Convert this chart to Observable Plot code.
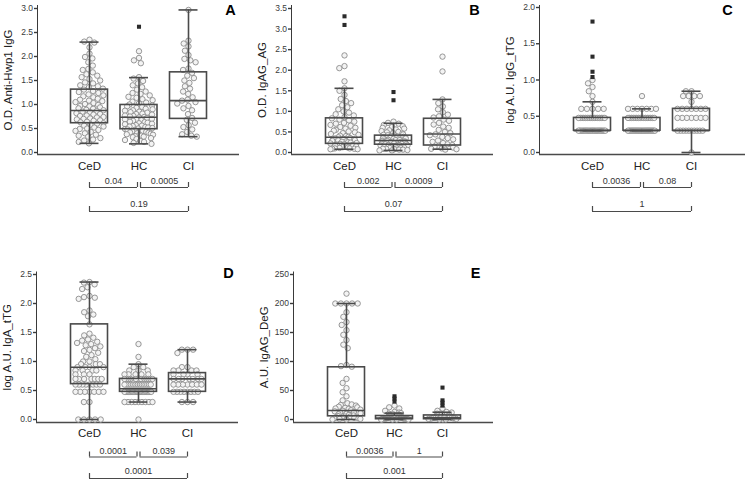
<!DOCTYPE html>
<html><head><meta charset="utf-8">
<script src="https://cdn.jsdelivr.net/npm/d3@7"></script>
<script src="https://cdn.jsdelivr.net/npm/@observablehq/plot@0.6"></script>
<style>
body{margin:0;background:#fff;}
#root{position:relative;width:745px;height:483px;overflow:hidden;}
.pn{position:absolute;}
.pn svg g[aria-label^="y-axis"] path,.pn svg g[aria-label^="y-axis"] line{stroke-width:1.4px;}
</style></head><body><div id="root"></div>
<script>
const groups = ["CeD", "HC", "CI"];

// ---- Panel A: O.D. Anti-Hwp1 IgG ----
const A_CeD = [2.35,2.31,2.29,2.19,2.06,1.99,1.96,1.88,1.81,1.74,1.72,1.67,1.63,1.60,1.57,1.53,1.50,1.46,1.44,1.40,1.38,1.36,1.33,1.31,1.28,1.26,1.24,1.21,1.19,1.17,1.15,1.12,1.10,1.08,1.07,1.05,1.03,1.01,0.99,0.97,0.96,0.94,0.92,0.91,0.89,0.88,0.86,0.85,0.84,0.82,0.80,0.79,0.77,0.76,0.74,0.73,0.71,0.70,0.69,0.67,0.66,0.64,0.63,0.61,0.60,0.58,0.56,0.54,0.52,0.50,0.49,0.47,0.45,0.43,0.40,0.37,0.35,0.33,0.30,0.27,0.25,0.22,0.19];
const A_HC = [2.11,1.97,1.92,1.86,1.57,1.54,1.49,1.44,1.40,1.36,1.31,1.27,1.24,1.22,1.19,1.16,1.14,1.11,1.09,1.06,1.04,1.02,1.00,0.98,0.96,0.95,0.93,0.91,0.90,0.88,0.87,0.85,0.84,0.83,0.81,0.80,0.79,0.77,0.76,0.75,0.74,0.73,0.72,0.70,0.69,0.68,0.67,0.66,0.64,0.63,0.62,0.61,0.60,0.59,0.57,0.56,0.55,0.54,0.53,0.52,0.51,0.50,0.49,0.48,0.47,0.46,0.45,0.44,0.43,0.42,0.41,0.40,0.39,0.38,0.37,0.36,0.35,0.34,0.33,0.32,0.30,0.28,0.26,0.24,0.22,0.20,0.18];
const A_CI = [2.97,2.33,2.27,2.21,2.12,2.03,1.95,1.92,1.88,1.75,1.72,1.66,1.60,1.55,1.50,1.45,1.38,1.33,1.27,1.22,1.15,1.10,1.08,1.05,1.02,0.97,0.92,0.88,0.80,0.72,0.68,0.62,0.57,0.53,0.48,0.43,0.38,0.35,0.33];
const A_out = [[], [2.62], []];
const A_q1 = [0.61, 0.485, 0.70];
const A_med = [0.875, 0.735, 1.08];
const A_q3 = [1.31, 0.99, 1.67];
const A_wlo = [0.19, 0.18, 0.33];
const A_whi = [2.30, 1.56, 2.97];
const A_p = ["0.04", "0.0005", "0.19"];

// ---- Panel B: O.D. IgAG_AG ----
const B_CeD = [2.36,2.10,2.05,1.73,1.56,1.50,1.40,1.30,1.25,1.20,1.15,1.10,1.05,1.00,0.97,0.93,0.90,0.86,0.83,0.80,0.78,0.75,0.72,0.70,0.67,0.65,0.62,0.60,0.58,0.55,0.53,0.51,0.49,0.47,0.45,0.43,0.41,0.40,0.38,0.37,0.35,0.34,0.33,0.32,0.31,0.30,0.29,0.28,0.27,0.26,0.25,0.24,0.23,0.22,0.21,0.20,0.19,0.18,0.17,0.16,0.15,0.14,0.13,0.12,0.11,0.10,0.10,0.09,0.09,0.08,0.08];
const B_HC = [0.75,0.72,0.70,0.67,0.64,0.62,0.60,0.58,0.56,0.54,0.52,0.50,0.49,0.47,0.46,0.44,0.43,0.42,0.41,0.40,0.39,0.38,0.37,0.36,0.35,0.34,0.34,0.33,0.32,0.31,0.30,0.30,0.29,0.28,0.27,0.27,0.26,0.25,0.25,0.24,0.23,0.23,0.22,0.21,0.21,0.20,0.20,0.19,0.18,0.18,0.17,0.17,0.16,0.15,0.15,0.14,0.13,0.13,0.12,0.11,0.11,0.10,0.09,0.09,0.08,0.07,0.07,0.06,0.05,0.05];
const B_CI = [2.33,1.97,1.29,1.20,1.12,1.05,0.98,0.92,0.88,0.85,0.80,0.77,0.72,0.68,0.63,0.60,0.55,0.50,0.47,0.44,0.42,0.38,0.35,0.32,0.29,0.26,0.23,0.20,0.18,0.16,0.14,0.12,0.10,0.09,0.08,0.07];
const B_out = [[3.31, 3.10], [1.47, 1.27], []];
const B_q1 = [0.21, 0.19, 0.17];
const B_med = [0.37, 0.29, 0.45];
const B_q3 = [0.83, 0.41, 0.82];
const B_wlo = [0.08, 0.05, 0.08];
const B_whi = [1.56, 0.71, 1.29];
const B_p = ["0.002", "0.0009", "0.07"];

// ---- Panel C: log A.U. IgG_tTG ----
const C_CeD = [1.000,0.954,0.903,0.845,0.778,0.699,0.602,0.602,0.602,0.602,0.602,
  0.477,0.477,0.477,0.477,0.477,0.477,0.477,0.477,0.477,0.477,0.477,0.477,0.477,0.477,0.477,0.477,
  0.301,0.301,0.301,0.301,0.301,0.301,0.301,0.301,0.301,0.301,0.301,0.301,0.301,0.301,0.301,0.301,0.301,0.301,0.301,0.301,0.301,0.301,0.301,0.301];
const C_HC = [0.778,0.602,0.602,0.602,0.602,0.602,0.602,0.602,
  0.477,0.477,0.477,0.477,0.477,0.477,0.477,0.477,0.477,0.477,0.477,0.477,0.477,0.477,0.477,0.477,
  0.301,0.301,0.301,0.301,0.301,0.301,0.301,0.301,0.301,0.301,0.301,0.301,0.301,0.301,0.301,0.301,0.301,0.301,0.301,0.301,0.301,0.301,0.301,0.301,0.301,0.301];
const C_CI = [0.845,0.845,0.778,0.778,0.778,0.778,0.699,0.602,0.602,0.602,0.602,0.602,0.602,0.602,
  0.477,0.477,0.477,0.477,0.477,0.477,0.477,0.301,0.301,0.301,0.301,0.301,0.301,0.301,0.301,0.301,0.301,0.000];
const C_out = [[1.806, 1.322, 1.114, 1.041], [], []];
const C_q1 = [0.301, 0.301, 0.301];
const C_med = [0.301, 0.301, 0.301];
const C_q3 = [0.477, 0.477, 0.602];
const C_wlo = [0.301, 0.301, 0.000];
const C_whi = [0.699, 0.602, 0.845];
const C_p = ["0.0036", "0.08", "1"];

// ---- Panel D: log A.U. IgA_tTG ----
const D_CeD = [2.37,2.36,2.33,2.28,2.25,2.13,2.11,2.10,2.08,1.88,1.85,1.81,1.78,1.64,1.48,1.45,1.41,1.38,1.36,1.34,1.32,1.30,1.28,1.26,1.23,1.20,1.18,1.15,1.11,1.08,1.04,1.00,1.00,0.954,0.954,0.954,0.903,0.903,0.903,0.903,0.845,0.845,0.845,0.845,0.778,0.778,0.778,
  0.699,0.699,0.699,0.699,0.699,0.699,0.699,0.602,0.602,0.602,0.602,0.602,0.602,0.602,0.602,0.477,0.477,0.477,0.477,0.477,0.477,0.477,0.301,0.301,0,0,0,0,0];
const D_HC = [1.301,1.079,0.954,0.903,0.903,0.845,0.845,0.845,0.778,0.778,0.778,0.778,0.778,
  0.699,0.699,0.699,0.699,0.699,0.699,0.699,0.699,0.699,0.699,0.699,0.699,
  0.602,0.602,0.602,0.602,0.602,0.602,0.602,0.602,0.602,0.602,0.602,0.602,0.602,0.602,0.602,0.602,
  0.477,0.477,0.477,0.477,0.477,0.477,0.477,0.477,0.477,0.477,0.477,0.477,0.477,0.477,0.477,0.477,0.477,0.477,0.477,0.477,0.477,0.477,
  0.301,0.301,0.301,0.301,0.301,0.301,0.301,0.301,0.301,0];
const D_CI = [1.204,1.204,1.204,1.146,0.903,0.903,0.845,0.845,0.845,0.845,0.778,0.778,0.778,0.778,
  0.699,0.699,0.699,0.699,0.699,0.699,0.699,0.602,0.602,0.602,0.602,0.602,0.602,0.602,
  0.477,0.477,0.477,0.477,0.477,0.477,0.477,0.477,0.301,0.301,0.301];
const D_out = [[], [], []];
const D_q1 = [0.61, 0.477, 0.477];
const D_med = [0.90, 0.53, 0.70];
const D_q3 = [1.64, 0.70, 0.80];
const D_wlo = [0, 0.301, 0.301];
const D_whi = [2.37, 0.954, 1.204];
const D_p = ["0.0001", "0.039", "0.0001"];

// ---- Panel E: A.U. IgAG_DeG ----
const E_CeD = [217,200,200,200,200,200,185,177,168,163,154,146,137,129,123,94,92,91,70,63,54,47,40,33,28,26,25,24,22,21,20,19,18,17,16,15,14,13,12,11,10,9,8,7,6,5,5,4,4,3,3,2,2,1,1,0,0];
const E_HC = [24,21,19,15,13,12,11,10,9,8,8,7,7,6,6,5,5,5,4,4,4,4,3,3,3,3,3,2,2,2,2,2,2,1,1,1,1,1,1,1,0,0,0,0,0,0];
const E_CI = [19,15,13,12,10,9,8,7,6,5,5,4,4,3,3,3,2,2,2,1,1,1,0,0,0];
const E_out = [[], [40, 36, 31], [55, 33, 29, 24]];
const E_q1 = [5.5, 0.5, 0.5];
const E_med = [15.5, 2.5, 3];
const E_q3 = [90, 6, 7];
const E_wlo = [0, 0, 0];
const E_whi = [200, 11, 12.5];
const E_p = ["0.0036", "1", "0.001"];

// ---- layout (page pixel coordinates) ----
const panels = [
  {id:"A", label:"O.D. Anti-Hwp1 IgG", left:0, top:0, w:245, h:228, axisX:37, c0:89, sp:49.5, xEnd:239, topTick:8, zero:152, axis:154, axisTop:5, tickMax:3, step:0.5, fmt:".1f",
   values:[A_CeD,A_HC,A_CI], outliers:A_out, q1:A_q1, med:A_med, q3:A_q3, wlo:A_wlo, whi:A_whi, pv:A_p, ldx:-9, ldy:5},
  {id:"B", label:"O.D. IgAG_AG", left:245, top:0, w:250, h:228, axisX:291, c0:344, sp:49, xEnd:493, topTick:8, zero:152, axis:154, axisTop:5, tickMax:3.5, step:0.5, fmt:".1f",
   values:[B_CeD,B_HC,B_CI], outliers:B_out, q1:B_q1, med:B_med, q3:B_q3, wlo:B_wlo, whi:B_whi, pv:B_p, ldx:-19, ldy:5},
  {id:"C", label:"log A.U. IgG_tTG", left:495, top:0, w:250, h:228, axisX:539, c0:592, sp:49.5, xEnd:745, topTick:7, zero:152, axis:154, axisTop:5, tickMax:2, step:0.5, fmt:".1f",
   values:[C_CeD,C_HC,C_CI], outliers:C_out, q1:C_q1, med:C_med, q3:C_q3, wlo:C_wlo, whi:C_whi, pv:C_p, ldx:-18, ldy:5},
  {id:"D", label:"log A.U. IgA_tTG", left:0, top:230, w:245, h:253, axisX:36, c0:89, sp:49, xEnd:238, topTick:274, zero:419, axis:422, axisTop:271.5, tickMax:2.5, step:0.5, fmt:".1f",
   values:[D_CeD,D_HC,D_CI], outliers:D_out, q1:D_q1, med:D_med, q3:D_q3, wlo:D_wlo, whi:D_whi, pv:D_p, ldx:-10, ldy:1.5},
  {id:"E", label:"A.U. IgAG_DeG", left:245, top:230, w:250, h:253, axisX:293, c0:346, sp:48, xEnd:493, topTick:274, zero:419, axis:422, axisTop:271.5, tickMax:250, step:50, fmt:"d",
   values:[E_CeD,E_HC,E_CI], outliers:E_out, q1:E_q1, med:E_med, q3:E_q3, wlo:E_wlo, whi:E_whi, pv:E_p, ldx:-18, ldy:1.5}
];

const R = 2.7, DIAM = 5.6, MAXHALF = 14;
const LINE = "#4a4a4a";
const FONT = "'Liberation Sans', Arial, Helvetica, sans-serif";

function swarm(ys) {
  const n = ys.length, xs = new Array(n).fill(0);
  const order = d3.range(n).sort((a, b) => ys[a] - ys[b]);
  const placed = [];
  for (const i of order) {
    const blocks = [];
    for (const j of placed) {
      const dy = Math.abs(ys[j] - ys[i]);
      if (dy < DIAM) { const w = Math.sqrt(DIAM * DIAM - dy * dy); blocks.push([xs[j] - w, xs[j] + w]); }
    }
    const cands = [0];
    for (const [a, b] of blocks) cands.push(a, b);
    cands.sort((a, b) => Math.abs(a) - Math.abs(b) || a - b);
    for (const c of cands) {
      if (blocks.every(([a, b]) => c <= a + 1e-6 || c >= b - 1e-6)) { xs[i] = c; break; }
    }
    placed.push(i);
  }
  const out = xs.slice();
  for (let i = 0; i < n; i++) {
    let m = 0;
    for (let j = 0; j < n; j++) if (Math.abs(ys[j] - ys[i]) < DIAM * 0.6) m = Math.max(m, Math.abs(xs[j]));
    if (m > MAXHALF) out[i] = xs[i] * MAXHALF / m;
  }
  return out;
}

function drawPanel(p) {
  const bottomRow = p.top > 0;
  const catDy = bottomRow ? 11 : 12;
  const br1 = bottomRow ? 34.5 : 33, t1 = bottomRow ? 28.5 : 27;
  const br2 = bottomRow ? 56 : 57, t2 = bottomRow ? 49 : 50;

  const ppu = (p.zero - p.topTick) / p.tickMax;
  const yLo = -(p.axis - p.zero) / ppu;
  const yHi = p.tickMax + (p.topTick - p.axisTop) / ppu;
  const xLo = -(p.c0 - p.axisX) / p.sp;
  const xHi = (p.xEnd - p.c0) / p.sp;
  const yPix = d3.scaleLinear([yLo, yHi], [p.axis, p.axisTop]);

  const dots = [];
  p.values.forEach((vals, g) => {
    const offs = swarm(vals.map(yPix));
    vals.forEach((v, k) => dots.push({x: g + offs[k] / p.sp, y: v}));
  });
  const outs = [];
  p.outliers.forEach((vals, g) => vals.forEach(v => outs.push({x: g, y: v})));
  const boxes = groups.map((name, g) => ({g, q1: p.q1[g], med: p.med[g], q3: p.q3[g], lo: p.wlo[g], hi: p.whi[g]}));
  const bh = 18.5 / p.sp, ch = 9.5 / p.sp, gap = 1.5 / p.sp;
  const b1 = [{x1: 0, x2: 1 - gap, t: p.pv[0]}, {x1: 1 + gap, x2: 2, t: p.pv[1]}];
  const b2 = [{x1: 0, x2: 2, t: p.pv[2]}];
  const tickH = 5 / ppu;
  const ticks = d3.range(0, p.tickMax + p.step / 2, p.step);

  const svg = Plot.plot({
    width: p.w, height: p.h,
    marginLeft: p.axisX - p.left, marginRight: p.left + p.w - p.xEnd,
    marginTop: p.axisTop - p.top, marginBottom: p.top + p.h - p.axis,
    style: {fontSize: "8.5px", fontFamily: FONT, color: "#3a3a3a", background: "transparent", overflow: "visible"},
    x: {domain: [xLo, xHi], axis: null},
    y: {domain: [yLo, yHi], ticks, tickFormat: p.fmt, tickSize: 3, tickPadding: 1.5, line: true, label: null},
    marks: [
      Plot.ruleY([yLo], {stroke: LINE, strokeWidth: 1.5}),
      Plot.dot(dots, {x: "x", y: "y", r: R, fill: "#f3f3f3", stroke: "#8c8c8c", strokeWidth: 0.9}),
      Plot.rect(boxes, {x1: d => d.g - bh, x2: d => d.g + bh, y1: "q1", y2: "q3", fill: "none", stroke: LINE, strokeWidth: 1.6}),
      Plot.ruleY(boxes, {x1: d => d.g - bh, x2: d => d.g + bh, y: "med", stroke: LINE, strokeWidth: 1.6}),
      Plot.ruleX(boxes, {x: "g", y1: "q3", y2: "hi", stroke: LINE, strokeWidth: 1.6}),
      Plot.ruleX(boxes, {x: "g", y1: "lo", y2: "q1", stroke: LINE, strokeWidth: 1.6}),
      Plot.ruleY(boxes, {x1: d => d.g - ch, x2: d => d.g + ch, y: "hi", stroke: LINE, strokeWidth: 1.6}),
      Plot.ruleY(boxes, {x1: d => d.g - ch, x2: d => d.g + ch, y: "lo", stroke: LINE, strokeWidth: 1.6}),
      Plot.dot(outs, {x: "x", y: "y", symbol: "square", r: 2.3, fill: "#2b2b2b", stroke: "none"}),
      Plot.text(groups, {x: (d, i) => i, y: () => yLo, dy: catDy, text: d => d, fontSize: 11.5, fill: "#222", lineAnchor: "middle"}),
      Plot.ruleY(b1, {x1: "x1", x2: "x2", y: () => yLo, dy: br1, stroke: LINE, strokeWidth: 1.2}),
      Plot.ruleX(b1.flatMap(d => [d.x1, d.x2]), {x: d => d, y1: () => yLo, y2: () => yLo + tickH, dy: br1, stroke: LINE, strokeWidth: 1.2}),
      Plot.text(b1, {x: d => (d.x1 + d.x2) / 2, y: () => yLo, dy: t1, text: "t", fontSize: 9, fill: "#333", lineAnchor: "middle"}),
      Plot.ruleY(b2, {x1: "x1", x2: "x2", y: () => yLo, dy: br2, stroke: LINE, strokeWidth: 1.2}),
      Plot.ruleX(b2.flatMap(d => [d.x1, d.x2]), {x: d => d, y1: () => yLo, y2: () => yLo + tickH, dy: br2, stroke: LINE, strokeWidth: 1.2}),
      Plot.text(b2, {x: d => (d.x1 + d.x2) / 2, y: () => yLo, dy: t2, text: "t", fontSize: 9, fill: "#333", lineAnchor: "middle"}),
      Plot.text([p.label], {text: d => d, frameAnchor: "left", rotate: -90, dx: -29, textAnchor: "middle", lineAnchor: "middle", fontSize: 11.5, fill: "#222"}),
      Plot.text([p.id], {text: d => d, frameAnchor: "top-right", dx: p.ldx, dy: p.ldy, textAnchor: "middle", lineAnchor: "middle", fontSize: 14.5, fontWeight: "bold", fill: "#000"})
    ]
  });
  const div = document.createElement("div");
  div.className = "pn";
  div.style.left = p.left + "px";
  div.style.top = p.top + "px";
  div.appendChild(svg);
  document.getElementById("root").appendChild(div);
}

panels.forEach(drawPanel);
</script>
</body></html>
